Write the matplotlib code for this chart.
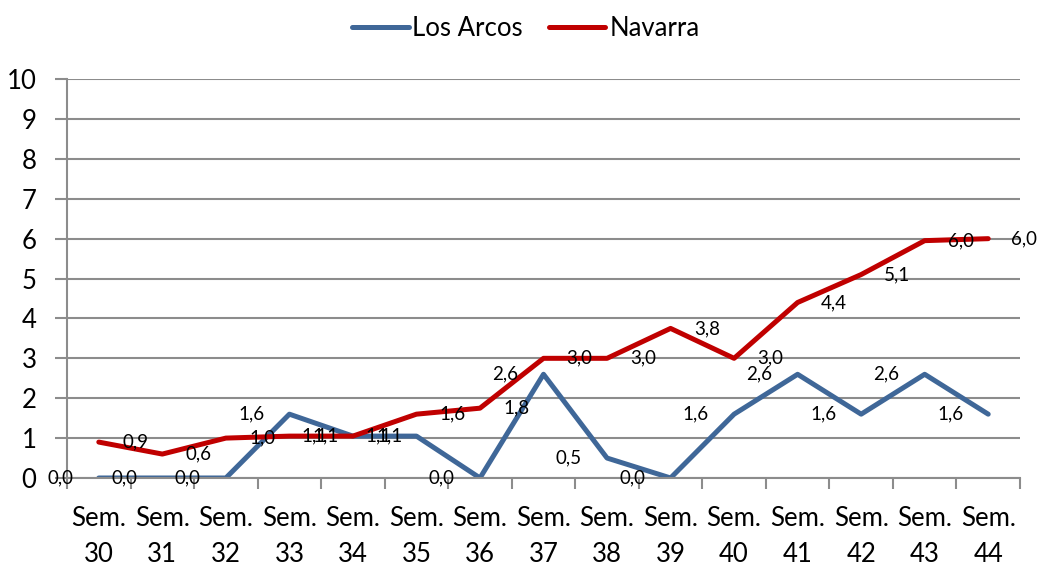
import matplotlib

matplotlib.use("Agg")

import matplotlib.pyplot as plt
import numpy as np

plt.rcParams["font.family"] = ["Lato", "DejaVu Sans"]

semanas = ["Sem.\n30", "Sem.\n31", "Sem.\n32", "Sem.\n33", "Sem.\n34",
           "Sem.\n35", "Sem.\n36", "Sem.\n37", "Sem.\n38", "Sem.\n39",
           "Sem.\n40", "Sem.\n41", "Sem.\n42", "Sem.\n43", "Sem.\n44"]
los_arcos = [0.0, 0.0, 0.0, 1.6, 1.05, 1.05, 0.0, 2.6, 0.5, 0.0, 1.6, 2.6, 1.6, 2.6, 1.6]
navarra = [0.9, 0.6, 1.0, 1.05, 1.05, 1.6, 1.75, 3.0, 3.0, 3.75, 3.0, 4.4, 5.1, 5.95, 6.0]

azul = "#3f6798"
rojo = "#c00000"
gris = "#8c8c8c"

fig = plt.figure(figsize=(10.41, 5.65), dpi=100)
ax = fig.add_axes([0.0644, 0.154, 0.9154, 0.706])

x = np.arange(len(semanas))
ax.plot(x, los_arcos, color=azul, lw=3.6, label="Los Arcos", solid_capstyle="round")
ax.plot(x, navarra, color=rojo, lw=3.6, label="Navarra", solid_capstyle="round")

# etiquetas de datos (desplazadas como en el original)
for i, v in enumerate(los_arcos):
    ax.text(i - 0.6, v, f"{v:.1f}".replace(".", ","), ha="center", va="center",
            fontsize=13.5, color="black", clip_on=False)
for i, v in enumerate(navarra):
    ax.text(i + 0.57, v, f"{v:.1f}".replace(".", ","), ha="center", va="center",
            fontsize=13.5, color="black", clip_on=False)

ax.set_xlim(-0.5, len(semanas) - 0.5)
ax.set_ylim(0, 10)
ax.set_yticks(range(0, 11))
ax.set_xticks(x)
ax.set_xticklabels(semanas, fontsize=18.5, linespacing=1.55)
ax.set_xticks(np.arange(-0.5, len(semanas)), minor=True)
ax.tick_params(axis="x", which="major", length=0, pad=20)
ax.tick_params(axis="x", which="minor", length=8, width=1.5, color=gris)
ax.tick_params(axis="y", length=9, width=1.5, color=gris, labelsize=18.5, pad=13)

ax.grid(axis="y", color=gris, lw=1.5)
ax.set_axisbelow(True)
for s in ["top", "right"]:
    ax.spines[s].set_visible(False)
for s in ["left", "bottom"]:
    ax.spines[s].set_color(gris)
    ax.spines[s].set_linewidth(1.5)

fig.legend(loc="upper center", bbox_to_anchor=(0.505, 1.012), ncol=2, frameon=False,
           fontsize=18.5, handlelength=2.2, handletextpad=0.15, columnspacing=1.0)

fig.savefig("out.png", dpi=100)
